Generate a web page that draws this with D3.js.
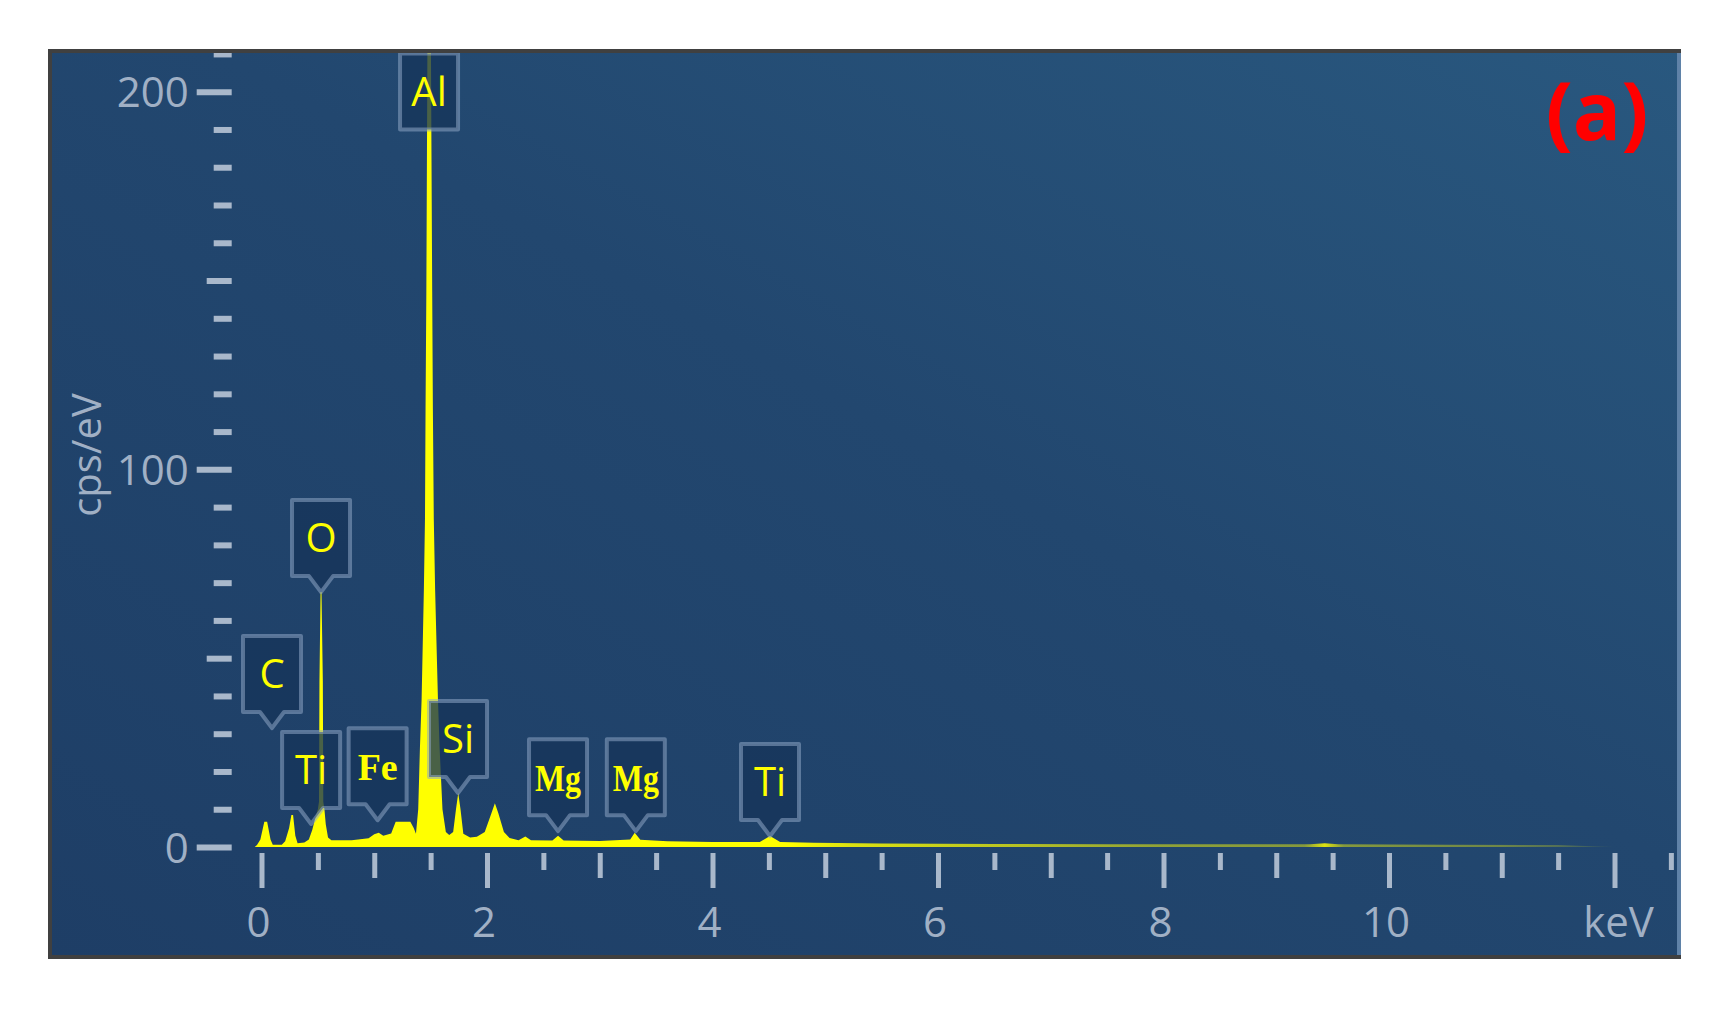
<!DOCTYPE html>
<html>
<head>
<meta charset="utf-8">
<script src="https://cdn.jsdelivr.net/npm/d3@7"></script>
<style>
  html, body { margin: 0; padding: 0; background: #ffffff; }
  svg { display: block; }
</style>
</head>
<body>
<svg id="chart" width="1731" height="1012"></svg>
<script>
// ---------------- DATA ----------------
// EDS spectrum: energy (keV) and intensity (cps/eV) at the drawn vertices
const spectrumKeV = [
  -0.06, -0.04, -0.01, 0.025, 0.05, 0.08, 0.10, 0.18, 0.21, 0.245, 0.265, 0.28, 0.30, 0.32,
  0.38, 0.42, 0.45, 0.48, 0.50, 0.51, 0.514, 0.524, 0.532, 0.544, 0.548, 0.558, 0.57, 0.59, 0.62,
  0.80, 0.95, 1.00, 1.04, 1.08, 1.15, 1.19, 1.32, 1.35, 1.37,
  1.39, 1.405, 1.42, 1.44, 1.45, 1.455, 1.462, 1.472, 1.475, 1.498, 1.502, 1.514, 1.52, 1.528,
  1.54, 1.565, 1.58, 1.605, 1.635, 1.665, 1.70, 1.725, 1.745, 1.765, 1.79, 1.85, 1.91,
  1.98, 2.04, 2.07, 2.10, 2.15, 2.20, 2.28, 2.34, 2.39, 2.58, 2.63, 2.68, 3.0, 3.27, 3.31, 3.36,
  3.6, 4.0, 4.42, 4.51, 4.6, 4.9, 5.5, 6.5, 7.5, 8.5, 9.3, 9.43, 9.55, 10.5, 11.5, 11.8, 12.0
];
const spectrumCps = [
  0, 0.5, 2, 6.7, 6.7, 2, 0.6, 0.6, 1.5, 5, 8.5, 8.5, 3, 1.0,
  1.2, 2, 4.5, 8, 10, 12, 44, 67.5, 67.5, 44, 12, 10, 6, 2.5, 1.8,
  1.8, 2.3, 3.4, 3.8, 3.0, 3.6, 6.7, 6.7, 5, 3.5,
  10, 26, 39, 68, 87, 116, 147, 215, 240, 240, 215, 147, 116, 87,
  68, 39, 26, 10, 4, 3.2, 4, 10, 14.3, 10, 3.5, 2.5, 2.7,
  4, 9, 11.6, 9, 4, 2.4, 1.8, 2.8, 1.8, 1.7, 3.0, 1.7, 1.6, 2.0, 3.8, 1.9,
  1.5, 1.3, 1.3, 2.9, 1.3, 1.1, 0.9, 0.8, 0.75, 0.7, 0.7, 1.0, 0.7, 0.6, 0.5, 0.2, 0
];

// Peak labels: element name, energy of the pointer tip (keV), height of the tip (cps/eV)
const labelNames = ["Al", "O", "C", "Ti", "Fe", "Si", "Mg", "Mg", "Ti"];
const labelKeV   = [1.486, 0.528, 0.093, 0.44, 1.03, 1.743, 2.63, 3.32, 4.51];
const labelCps   = [190, 67.5, 31.5, 6.1, 7.1, 14.3, 4.2, 4.2, 2.9];
const serifLabels = new Set(["Fe", "Mg"]);
const topPinned = new Set(["Al"]);   // label pushed to top, drawn without pointer

// Axis ticks
const xTickValues = [0, 2, 4, 6, 8, 10];
const xTickLabels = ["0", "2", "4", "6", "8", "10"];
const xUnitLabel = "keV";
const yTickValues = [0, 100, 200];
const yTickLabels = ["0", "100", "200"];
const yAxisTitle = "cps/eV";
const panelTag = "(a)";

// ---------------- LAYOUT ----------------
const svg = d3.select("#chart");
const frame = { x: 48, y: 49, w: 1633, h: 910 };
const x = d3.scaleLinear().domain([0, 12]).range([261.5, 1614.5]);
const y = d3.scaleLinear().domain([0, 200]).range([847, 91.7]);
const font = "'Open Sans', 'Noto Sans', sans-serif";
const tickColor = "#a9b8cb";
const textColor = "#a0b0c5";

const defs = svg.append("defs");
const bg = defs.append("linearGradient").attr("id", "bgGrad")
  .attr("x1", "0").attr("y1", "1").attr("x2", "1").attr("y2", "0");
bg.append("stop").attr("offset", "0").attr("stop-color", "#1e3e66");
bg.append("stop").attr("offset", "0.55").attr("stop-color", "#22476f");
bg.append("stop").attr("offset", "1").attr("stop-color", "#29587f");

// fading of the thin high-energy tail
const fadeStops = [[0, 1], [4.7, 1], [5.2, 0.85], [6.5, 0.7], [8, 0.5], [9.25, 0.45], [9.43, 0.85],
                   [9.6, 0.45], [11, 0.35], [11.6, 0.2], [12, 0.05]];
const sg = defs.append("linearGradient").attr("id", "specGrad")
  .attr("gradientUnits", "userSpaceOnUse")
  .attr("x1", x(0)).attr("y1", 0).attr("x2", x(12)).attr("y2", 0);
fadeStops.forEach(([k, o]) => sg.append("stop").attr("offset", k / 12)
  .attr("stop-color", "#ffff00").attr("stop-opacity", o));

defs.append("clipPath").attr("id", "plotClip").append("rect")
  .attr("x", frame.x + 4).attr("y", frame.y + 4)
  .attr("width", frame.w - 8).attr("height", frame.h - 8);

// background panel
svg.append("rect").attr("x", frame.x).attr("y", frame.y)
  .attr("width", frame.w).attr("height", frame.h).attr("fill", "url(#bgGrad)");

// ---------------- Y AXIS ----------------
const yMinor = d3.range(0, 211, 10).filter(v => v % 50 !== 0);
const yMid = [50, 150];
function yAxisGroup(values, size, labels) {
  const ax = d3.axisLeft(y).tickValues(values).tickSize(size).tickPadding(8)
    .tickFormat(labels ? (d, i) => labels[i] : () => "");
  const g = svg.append("g").attr("transform", `translate(231.7,0)`).call(ax);
  g.select(".domain").remove();
  g.selectAll(".tick line").attr("stroke", tickColor).attr("stroke-width", 6);
  g.selectAll(".tick text").attr("fill", textColor).attr("font-family", font)
    .attr("font-size", 42).attr("dy", null).attr("y", 15);
  return g;
}
yAxisGroup(yMinor, 18, null);
yAxisGroup(yMid, 25, null);
yAxisGroup(yTickValues, 35, yTickLabels);

svg.append("text")
  .attr("transform", "translate(101,455) rotate(-90)")
  .attr("text-anchor", "middle")
  .attr("font-family", font).attr("font-size", 40).attr("fill", textColor)
  .text(yAxisTitle);

// ---------------- X AXIS ----------------
const xHalf = d3.range(0.5, 12.6, 1);
const xOdd = [1, 3, 5, 7, 9, 11];
const xEven = [0, 2, 4, 6, 8, 10, 12];
function xAxisGroup(values, size) {
  const ax = d3.axisBottom(x).tickValues(values).tickSize(size).tickFormat(() => "");
  const g = svg.append("g").attr("transform", "translate(0,853)").call(ax);
  g.select(".domain").remove();
  g.selectAll(".tick line").attr("stroke", tickColor).attr("stroke-width", 5);
  return g;
}
xAxisGroup(xHalf, 17);
xAxisGroup(xOdd, 25);
xAxisGroup(xEven, 35);

svg.append("g").selectAll("text").data(xTickValues).join("text")
  .attr("x", d => x(d) - 3).attr("y", 937)
  .attr("text-anchor", "middle")
  .attr("font-family", font).attr("font-size", 42).attr("fill", textColor)
  .text((d, i) => xTickLabels[i]);
svg.append("text").attr("x", x(12) + 4).attr("y", 937)
  .attr("text-anchor", "middle")
  .attr("font-family", font).attr("font-size", 42).attr("fill", textColor)
  .text(xUnitLabel);

// ---------------- SPECTRUM ----------------
const spec = spectrumKeV.map((k, i) => ({ k, c: spectrumCps[i] }));
const area = d3.area().x(d => x(d.k)).y0(y(0)).y1(d => y(d.c)).curve(d3.curveLinear);
svg.append("path").datum(spec)
  .attr("clip-path", "url(#plotClip)")
  .attr("d", area)
  .attr("fill", "url(#specGrad)");

// ---------------- PEAK LABELS ----------------
const boxW = 58, boxH = 76, ptrH = 16, ptrHalf = 12;
const lg = svg.append("g").attr("clip-path", "url(#plotClip)");
labelNames.forEach((name, i) => {
  const tx = x(labelKeV[i]);
  const ty = y(labelCps[i]);
  const pinned = topPinned.has(name);
  const bottom = pinned ? ty : ty - ptrH;
  const top = bottom - boxH;
  const l = tx - boxW / 2, r = tx + boxW / 2;
  const p = pinned
    ? `M${l},${top}L${r},${top}L${r},${bottom}L${l},${bottom}Z`
    : `M${l},${top}L${r},${top}L${r},${bottom}L${tx + ptrHalf},${bottom}L${tx},${ty}L${tx - ptrHalf},${bottom}L${l},${bottom}Z`;
  lg.append("path").attr("d", p)
    .attr("fill", "#16345a").attr("fill-opacity", 0.78)
    .attr("stroke", "#8ea6c4").attr("stroke-opacity", 0.55)
    .attr("stroke-width", 4).attr("stroke-linejoin", "round");
  const serif = serifLabels.has(name);
  const fs = serif ? 38 : 40;
  const t = lg.append("text")
    .attr("x", tx).attr("y", (top + bottom) / 2 + fs * 0.36)
    .attr("text-anchor", "middle")
    .attr("font-family", serif ? "'Liberation Serif', 'DejaVu Serif', serif" : font)
    .attr("font-weight", serif ? 700 : 400)
    .attr("font-size", fs).attr("fill", "#ffff00")
    .text(name);
  if (serif) t.attr("textLength", name === "Mg" ? 46 : 40).attr("lengthAdjust", "spacingAndGlyphs");
});

// ---------------- PANEL TAG ----------------
svg.append("text").attr("x", 1597).attr("y", 140)
  .attr("text-anchor", "middle")
  .attr("font-family", font).attr("font-weight", 700).attr("font-size", 80)
  .attr("fill", "#ff0000").text(panelTag);

// ---------------- FRAME BORDERS ----------------
svg.append("rect").attr("x", frame.x).attr("y", frame.y).attr("width", frame.w).attr("height", 4).attr("fill", "#404040");
svg.append("rect").attr("x", frame.x).attr("y", frame.y).attr("width", 4).attr("height", frame.h).attr("fill", "#404040");
svg.append("rect").attr("x", frame.x + frame.w - 4).attr("y", frame.y + 4).attr("width", 4).attr("height", frame.h - 8).attr("fill", "#5f82a8");
svg.append("rect").attr("x", frame.x).attr("y", frame.y + frame.h - 4).attr("width", frame.w).attr("height", 4).attr("fill", "#404040");
</script>
</body>
</html>
